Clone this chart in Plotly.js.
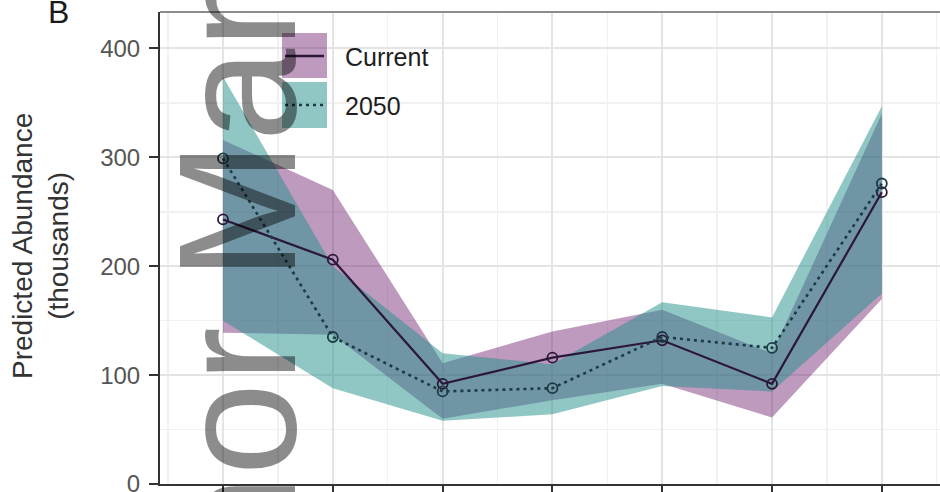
<!DOCTYPE html>
<html>
<head>
<meta charset="utf-8">
<script src="https://cdn.plot.ly/plotly-3.0.1.min.js"></script>
<style>html,body{margin:0;padding:0;background:#fff;}#chart{width:940px;height:492px;}</style>
</head>
<body>
<div id="chart"></div>
<script>
// ---- data ----
const categories = [1, 2, 3, 4, 5, 6, 7];
const currentMean  = [243, 206, 92, 116, 132, 92, 268];
const currentLower = [139, 137, 60, 77, 92, 61, 170];
const currentUpper = [316, 270, 111, 140, 160, 120, 340];
const futureMean   = [299, 135, 85, 88, 135, 125, 276];
const futureLower  = [150, 88, 58, 64, 90, 85, 175];
const futureUpper  = [374, 200, 120, 110, 167, 153, 347];
const seriesNames  = ["Current", "2050"];
const yTicks = [0, 100, 200, 300, 400];
const yTickText = ["0", "100", "200", "300", "400"];

// ---- styles ----
const purpleFill = "rgba(110,30,110,0.45)";
const tealFill = "rgba(33,144,140,0.5)";
const curLine = "#2b1838";
const futLine = "#1c3a46";

const W = 940, H = 492, ML = 160, MR = 0, MT = 12, MB = 8;
const PW = W - ML - MR, PH = H - MT - MB;
const xp = px => (px - ML) / PW;
const yp = py => (H - MB - py) / PH;

const traces = [
  {x: categories, y: currentUpper, type: "scatter", mode: "lines", line: {width: 0, color: purpleFill}, showlegend: false, hoverinfo: "skip"},
  {x: categories, y: currentLower, type: "scatter", mode: "lines", line: {width: 0, color: purpleFill}, fill: "tonexty", fillcolor: purpleFill, showlegend: false, hoverinfo: "skip"},
  {x: categories, y: futureUpper, type: "scatter", mode: "lines", line: {width: 0, color: tealFill}, showlegend: false, hoverinfo: "skip"},
  {x: categories, y: futureLower, type: "scatter", mode: "lines", line: {width: 0, color: tealFill}, fill: "tonexty", fillcolor: tealFill, showlegend: false, hoverinfo: "skip"},
  {x: categories, y: currentMean, name: seriesNames[0], type: "scatter", mode: "lines+markers",
   line: {color: curLine, width: 2.2}, marker: {symbol: "circle-open", size: 10, color: curLine, line: {width: 1.8, color: curLine}}, showlegend: false},
  {x: categories, y: futureMean, name: seriesNames[1], type: "scatter", mode: "lines+markers",
   line: {color: futLine, width: 2.6, dash: "3px,4px"}, marker: {symbol: "circle-open", size: 10, color: futLine, line: {width: 1.8, color: futLine}}, showlegend: false}
];

const shapes = [
  {type: "line", xref: "paper", yref: "paper", x0: 0, x1: 1, y0: 1, y1: 1, line: {color: "#8c8c8c", width: 2}},
  {type: "rect", xref: "paper", yref: "paper", x0: xp(282), x1: xp(327), y0: yp(78), y1: yp(33), fillcolor: purpleFill, line: {width: 0}},
  {type: "line", xref: "paper", yref: "paper", x0: xp(285), x1: xp(324), y0: yp(56), y1: yp(56), line: {color: curLine, width: 2.5}},
  {type: "rect", xref: "paper", yref: "paper", x0: xp(282), x1: xp(327), y0: yp(128), y1: yp(82), fillcolor: tealFill, line: {width: 0}},
  {type: "line", xref: "paper", yref: "paper", x0: xp(285), x1: xp(324), y0: yp(105), y1: yp(105), line: {color: futLine, width: 2.6, dash: "3px,4px"}}
];

const annotations = [
  {text: seriesNames[0], xref: "paper", yref: "paper", x: xp(343), y: yp(57), xanchor: "left", yanchor: "middle", showarrow: false, font: {family: "Liberation Sans, Arial, sans-serif", size: 25, color: "#1e1e1e"}},
  {text: seriesNames[1], xref: "paper", yref: "paper", x: xp(343), y: yp(106), xanchor: "left", yanchor: "middle", showarrow: false, font: {family: "Liberation Sans, Arial, sans-serif", size: 25, color: "#1e1e1e"}},
  {text: "Predicted Abundance<br>(thousands)", xref: "paper", yref: "paper", x: xp(40), y: yp(246), xanchor: "center", yanchor: "middle", textangle: -90, showarrow: false, font: {family: "Liberation Sans, Arial, sans-serif", size: 28, color: "#333"}},
  {text: "B", xref: "paper", yref: "paper", x: xp(59), y: yp(32), xanchor: "center", yanchor: "bottom", showarrow: false, font: {family: "Liberation Sans, Arial, sans-serif", size: 32, color: "#1a1a1a"}},
  {text: "Author Manuscript", xref: "paper", yref: "paper", x: xp(237), y: yp(142), xanchor: "center", yanchor: "middle", textangle: -90, showarrow: false, font: {family: "Liberation Sans, Arial, sans-serif", size: 167, color: "rgba(0,0,0,0.45)"}}
];

const layout = {
  width: W, height: H,
  margin: {l: ML, r: MR, t: MT, b: MB, pad: 0},
  paper_bgcolor: "#fff", plot_bgcolor: "#fff",
  showlegend: false,
  xaxis: {
    type: "linear", range: [0.426, 7.53], tickmode: "array", tickvals: categories, ticktext: categories.map(String),
    showticklabels: false, ticks: "outside", ticklen: 8, tickwidth: 2, tickcolor: "#333",
    showline: true, linecolor: "#333", linewidth: 2,
    showgrid: true, gridcolor: "#e4e4e4", gridwidth: 2, zeroline: false,
    minor: {tickmode: "linear", tick0: 0.5, dtick: 1, showgrid: true, gridcolor: "#f1f1f1", gridwidth: 1.5, ticks: ""}
  },
  yaxis: {
    range: [0, 433.5], tickmode: "array", tickvals: yTicks, ticktext: yTickText,
    ticks: "outside", ticklen: 9, tickwidth: 2, tickcolor: "#333", ticklabelstandoff: 4, ticklabeloverflow: "allow",
    tickfont: {family: "Liberation Sans, Arial, sans-serif", size: 24, color: "#555"},
    showline: true, linecolor: "#333", linewidth: 2,
    showgrid: true, gridcolor: "#e4e4e4", gridwidth: 2, zeroline: false,
    minor: {tickmode: "linear", tick0: 50, dtick: 100, showgrid: true, gridcolor: "#f1f1f1", gridwidth: 1.5, ticks: ""}
  },
  shapes: shapes,
  annotations: annotations
};

Plotly.newPlot("chart", traces, layout, {staticPlot: true, displayModeBar: false});
</script>
</body>
</html>
